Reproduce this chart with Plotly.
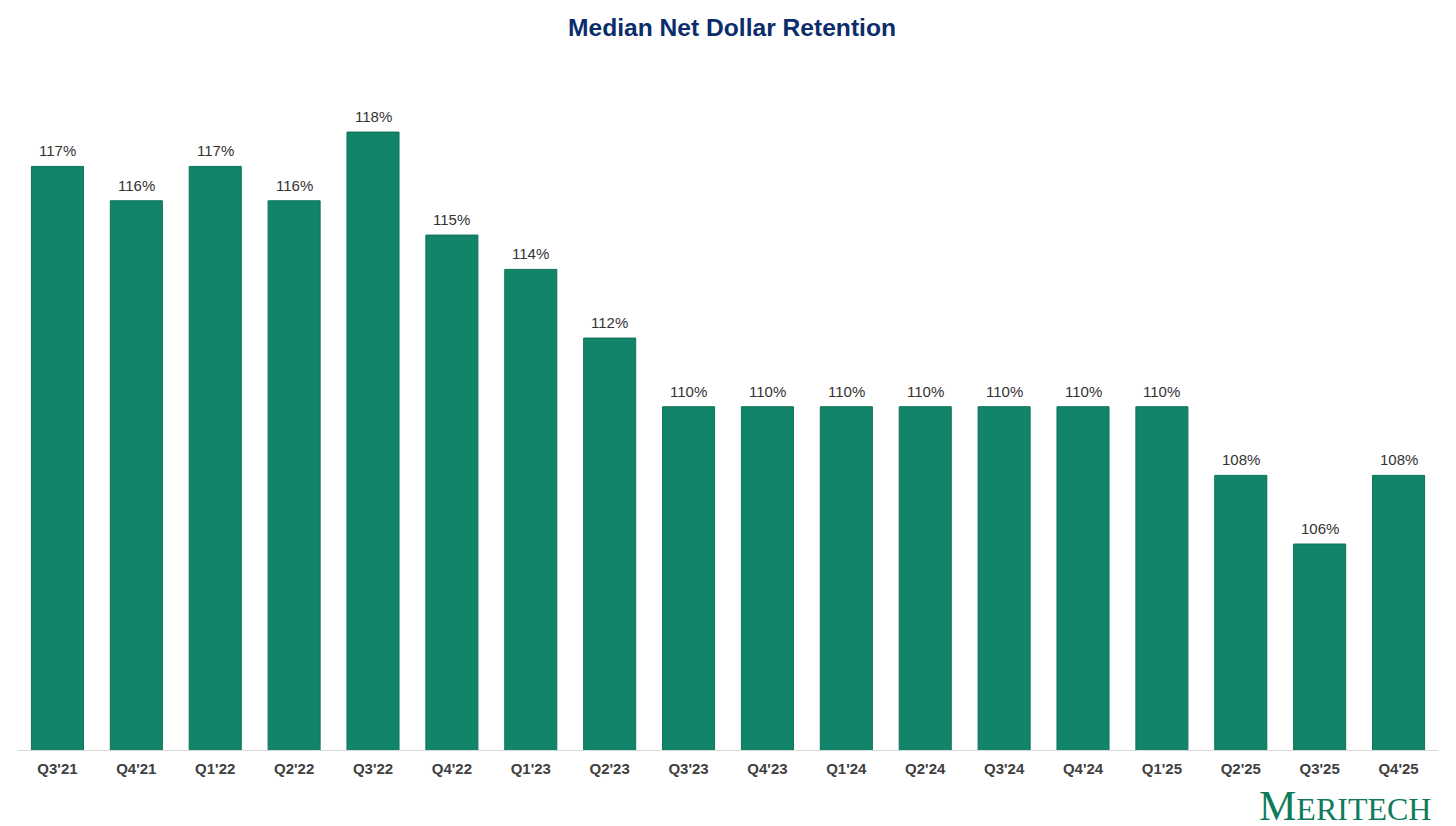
import plotly.graph_objects as go

quarters = ["Q3'21", "Q4'21", "Q1'22", "Q2'22", "Q3'22", "Q4'22", "Q1'23", "Q2'23",
            "Q3'23", "Q4'23", "Q1'24", "Q2'24", "Q3'24", "Q4'24", "Q1'25", "Q2'25",
            "Q3'25", "Q4'25"]
ndr = [117, 116, 117, 116, 118, 115, 114, 112, 110, 110, 110, 110, 110, 110, 110, 108, 106, 108]
labels = [f"{v}%" for v in ndr]

fig = go.Figure()
fig.add_trace(go.Bar(
    x=quarters, y=ndr,
    marker=dict(color="#12846A", line=dict(color="#0E7359", width=1)),
    hoverinfo="x+y",
))

for q, v, t in zip(quarters, ndr, labels):
    fig.add_annotation(x=q, y=v, text=t, showarrow=False, yanchor="bottom", yshift=5,
                       font=dict(family="Liberation Sans, Arial", size=15, color="#333333"))

fig.update_layout(
    width=1448, height=818,
    margin=dict(l=10, r=18, t=52, b=76),
    paper_bgcolor="white", plot_bgcolor="white",
    bargap=0.34,
    showlegend=False,
    title=dict(text="<b>Median Net Dollar Retention</b>", x=0.5, xanchor="center",
               y=1 - 19 / 818, yanchor="middle",
               font=dict(family="Liberation Sans, Arial", size=24.6, color="#0B2D6B")),
    xaxis=dict(showline=True, linecolor="#D9D9D9", linewidth=1, ticks="",
               tickfont=dict(family="Liberation Sans, Arial", size=15, color="#404040"),
               ticklabelstandoff=5, showgrid=False, tickprefix="<b>", ticksuffix="</b>"),
    yaxis=dict(range=[100, 120.1], visible=False, showgrid=False),
    font=dict(family="Liberation Sans, Arial"),
)

fig.add_annotation(
    text="<span style='font-size:42px'>M</span><span style='font-size:32px'>ERITECH</span>",
    xref="paper", yref="paper", x=0.9965, y=-0.081, xanchor="right", yanchor="middle",
    showarrow=False,
    font=dict(family="Liberation Serif, Times New Roman, serif", color="#0F7B5A", size=32),
)

fig.write_html("out.html")
